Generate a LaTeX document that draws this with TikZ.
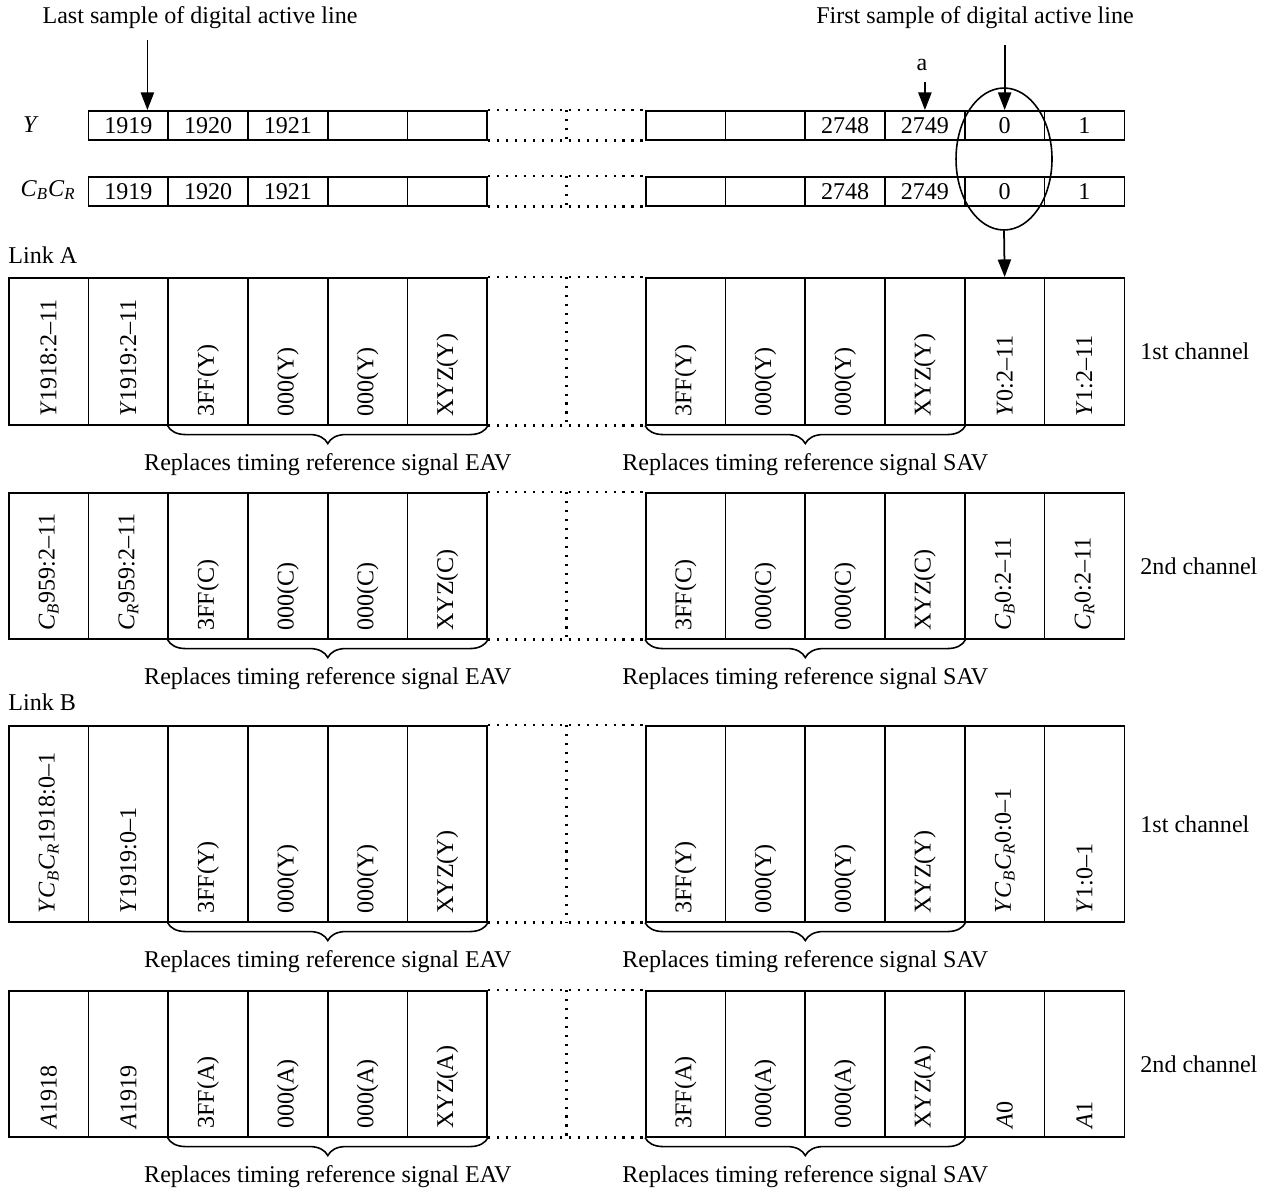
\documentclass[tikz,border=0pt]{standalone}
\usepackage{fontspec}
\setmainfont{Liberation Serif}
\usetikzlibrary{positioning,arrows.meta,calc,shapes.geometric,decorations.pathreplacing}
\newcommand{\Yi}{\textit{Y}}
\newcommand{\Ai}{\textit{A}}
\newcommand{\CB}{\textit{C}\textsubscript{\textit{B}}}
\newcommand{\CR}{\textit{C}\textsubscript{\textit{R}}}

\begin{document}
\begin{tikzpicture}[x=0.02cm,y=-0.02cm,font=\fontsize{13.7}{16}\selectfont,
  cell/.style={draw,rectangle,line width=0.9pt,inner sep=0pt,minimum width=1.595cm},
  txt/.style={inner sep=0pt},
  vtxt/.style={inner sep=0pt,rotate=90,anchor=west},
  dots/.style={line width=1.4pt,dash pattern=on 1.2pt off 3.9pt},
  arr/.style={line width=1pt,-{Triangle[length=10pt,width=7.5pt]}},
  brc/.style={line width=0.9pt,decorate,decoration={brace,mirror,amplitude=0.36cm}}]
\useasboundingbox (0,0) rectangle (1266,1188);

\foreach \r/\t in {y/110,c/176}{
  \foreach \s [count=\i from 2] in {1919,1920,1921,{},{},{},{},2748,2749,0,1}{
    \pgfmathsetmacro\xl{\i<7 ? 8+(\i-1)*79.75 : 645+(\i-7)*79.75}
    \node[cell,minimum height=0.58cm,anchor=north west] (\r\i) at (\xl,\t) {\s};
  }
  \draw[dots] (\r6.north east) -- (\r7.north west) (\r6.south east) -- (\r7.south west)
    ($(\r6.north east)!0.5!(\r7.north west)$) -- ($(\r6.south east)!0.5!(\r7.south west)$);
}
\node[txt] (ylab) at (31,125) {\Yi};
\node[txt] (clab) at (48,190) {\CB\CR};

\foreach \r/\t/\h/\ch/\L in {
  ay/277/2.94cm/1st channel/{\Yi1918:2--11,\Yi1919:2--11,3FF(Y),000(Y),000(Y),XYZ(Y),3FF(Y),000(Y),000(Y),XYZ(Y),\Yi0:2--11,\Yi1:2--11},
  ac/492/2.92cm/2nd channel/{\CB959:2--11,\CR959:2--11,3FF(C),000(C),000(C),XYZ(C),3FF(C),000(C),000(C),XYZ(C),\CB0:2--11,\CR0:2--11},
  by/725/3.92cm/1st channel/{\Yi\CB\CR1918:0--1,\Yi1919:0--1,3FF(Y),000(Y),000(Y),XYZ(Y),3FF(Y),000(Y),000(Y),XYZ(Y),\Yi\CB\CR0:0--1,\Yi1:0--1},
  bc/990/2.92cm/2nd channel/{\Ai1918,\Ai1919,3FF(A),000(A),000(A),XYZ(A),3FF(A),000(A),000(A),XYZ(A),\Ai0,\Ai1}}{
  \foreach \s [count=\i] in \L{
    \pgfmathsetmacro\xl{\i<7 ? 8+(\i-1)*79.75 : 645+(\i-7)*79.75}
    \node[cell,minimum height=\h,anchor=north west] (\r\i) at (\xl,\t) {};
    \node[vtxt] (\r t\i) at ([yshift=0.17cm]\r\i.south) {\s};
  }
  \draw[dots] (\r6.north east) -- (\r7.north west) (\r6.south east) -- (\r7.south west)
    ($(\r6.north east)!0.5!(\r7.north west)$) -- ($(\r6.south east)!0.5!(\r7.south west)$);
  \draw[brc] (\r3.south west) -- (\r6.south east);
  \draw[brc] (\r7.south west) -- (\r10.south east);
  \node[txt] (\r eav) at ($(\r3.south west)!0.5!(\r6.south east)+(0,39)$) {Replaces timing reference signal EAV};
  \node[txt] (\r sav) at ($(\r7.south west)!0.5!(\r10.south east)+(0,39)$) {Replaces timing reference signal SAV};
  \node[txt,anchor=west] (\r ch) at ([xshift=0.3cm]\r12.east) {\ch};
}
\node[txt,anchor=west] (linka) at (8,255) {Link A};
\node[txt,anchor=west] (linkb) at (8,702) {Link B};

\node[draw,ellipse,line width=0.9pt,inner sep=0pt,minimum width=1.92cm,minimum height=2.84cm] (ring) at (1004,159) {};
\node[txt] (last) at (200,18) {Last sample of digital active line};
\node[txt] (first) at (975,18) {First sample of digital active line};
\node[txt] (anote) at (922,65) {a};
\coordinate (lastpt) at ([xshift=0.38cm]y2.north);
\draw[arr] ($(last.south -| lastpt)+(0,11)$) -- (lastpt);
\draw[arr] ($(first.south -| y11.north)+(0,16)$) -- (y11.north);
\draw[arr] ($(anote.south -| y10.north)+(0,11)$) -- (y10.north);
\draw[arr] (ring.south) -- (ay11.north);
\end{tikzpicture}
\end{document}
